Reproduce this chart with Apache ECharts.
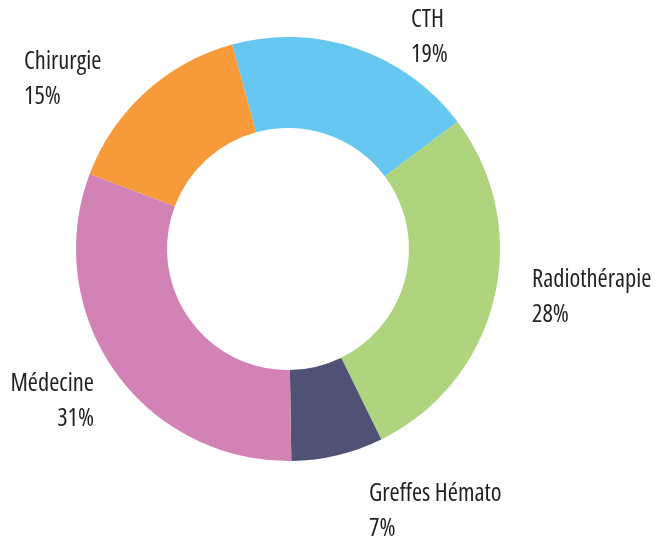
<!DOCTYPE html>
<html>
<head>
<meta charset="utf-8">
<script src="https://cdn.jsdelivr.net/npm/echarts@6/dist/echarts.min.js"></script>
<style>
html,body{margin:0;padding:0;background:#fff;}
#chart{width:655px;height:544px;}
</style>
</head>
<body>
<div id="chart"></div>
<script>
// Data
var categories = ['CTH', 'Radiothérapie', 'Greffes Hémato', 'Médecine', 'Chirurgie'];
var values = [19, 28, 7, 31, 15];
var colors = ['#66C7F0', '#AED47E', '#505275', '#D282B5', '#F69A3A'];

// Label layout (anchor offsets relative to the pie centre, and alignment)
var pieCenter = [288, 249];
var labelAnchors = [
  {dx: 123, dy: -211.5, align: 'left'},
  {dx: 244, dy: 48.5, align: 'left'},
  {dx: 81, dy: 263, align: 'left'},
  {dx: -194, dy: 153, align: 'right'},
  {dx: -264, dy: -169.5, align: 'left'}
];

var chart = echarts.init(document.getElementById('chart'), null, {renderer: 'canvas'});
var data = categories.map(function (c, i) {
  return {name: c, value: values[i], itemStyle: {color: colors[i]}};
});

chart.setOption({
  animation: false,
  backgroundColor: '#ffffff',
  series: [{
    type: 'pie',
    center: pieCenter,
    radius: [121, 212],
    startAngle: 105.3,
    clockwise: true,
    avoidLabelOverlap: false,
    silent: true,
    itemStyle: {borderWidth: 0},
    label: {
      show: true,
      position: 'outside',
      formatter: '{b}\n{c}%',
      fontFamily: "'Open Sans', sans-serif",
      fontWeight: '500 condensed',
      fontSize: 24.5,
      lineHeight: 35,
      color: '#231F20'
    },
    labelLine: {show: false},
    labelLayout: function (p) {
      var a = labelAnchors[p.dataIndex];
      return {
        x: pieCenter[0] + a.dx,
        y: pieCenter[1] + a.dy,
        align: a.align,
        verticalAlign: 'middle'
      };
    },
    data: data
  }]
});
</script>
</body>
</html>
